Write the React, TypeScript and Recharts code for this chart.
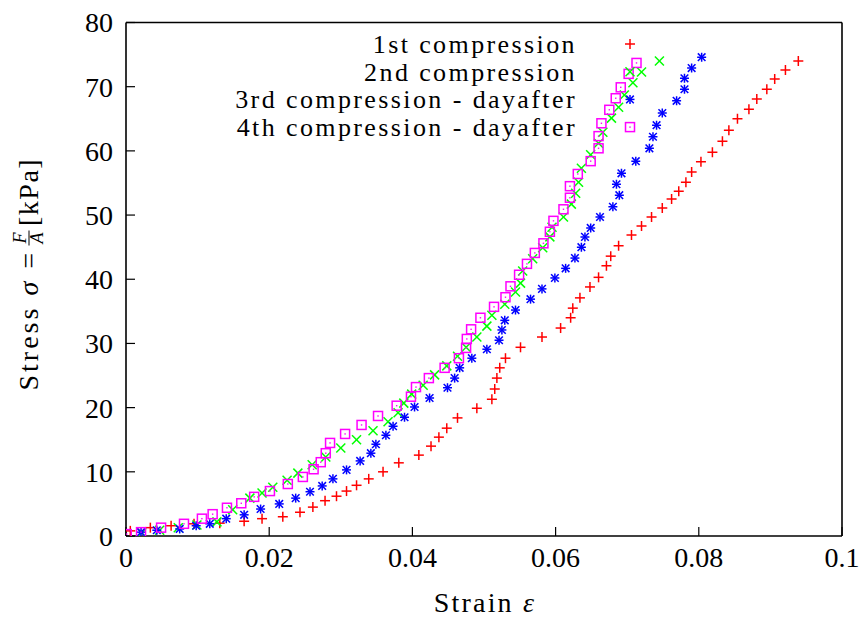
import { ScatterChart, Scatter, XAxis, YAxis } from 'recharts'

// [strain, stress kPa]
const firstCompression: [number, number][] = [
  [0.0006, 0.8], [0.0034, 1.3], [0.0063, 1.6], [0.0095, 1.9], [0.0131, 2.0], [0.0165, 2.3],
  [0.019, 2.7], [0.0219, 3.0], [0.0243, 3.7], [0.0261, 4.5], [0.0278, 5.5], [0.0294, 6.2],
  [0.0308, 7.0], [0.0322, 7.9], [0.0339, 8.9], [0.0359, 10.0], [0.0381, 11.4], [0.0409, 12.6],
  [0.0426, 14.0], [0.0437, 15.4], [0.0448, 16.8], [0.0463, 18.4], [0.049, 19.9], [0.0511, 21.3],
  [0.0515, 22.9], [0.0518, 24.6], [0.0522, 26.2], [0.053, 27.7], [0.0551, 29.4], [0.0581, 31.0],
  [0.0607, 32.4], [0.0621, 34.0], [0.0624, 35.5], [0.0634, 37.1], [0.0648, 38.8], [0.066, 40.3],
  [0.0671, 42.1], [0.0677, 43.6], [0.0688, 45.2], [0.0706, 46.9], [0.072, 48.3], [0.0734, 49.7],
  [0.0749, 51.1], [0.0762, 52.5], [0.0772, 53.7], [0.0782, 55.1], [0.079, 56.7], [0.0803, 58.3],
  [0.0819, 59.8], [0.0833, 61.5], [0.0842, 63.2], [0.0854, 65.0], [0.087, 66.5], [0.0881, 68.1],
  [0.0895, 69.6], [0.0906, 71.2], [0.0921, 72.6], [0.0939, 74.0],
]

const secondCompression: [number, number][] = [
  [0.0022, 0.5], [0.0047, 0.9], [0.0073, 1.3], [0.0099, 1.7], [0.0127, 2.2], [0.0149, 4.1],
  [0.0173, 5.9], [0.019, 6.7], [0.0205, 7.6], [0.0225, 8.7], [0.024, 9.8], [0.026, 11.1],
  [0.0279, 12.3], [0.03, 13.7], [0.0322, 15.0], [0.0345, 16.4], [0.0366, 17.8], [0.038, 19.2],
  [0.0388, 20.7], [0.0399, 22.1], [0.0415, 23.5], [0.0431, 25.1], [0.0448, 26.5], [0.0463, 28.0],
  [0.0475, 29.4], [0.049, 31.0], [0.0504, 32.7], [0.0511, 34.4], [0.0529, 36.1], [0.0544, 38.0],
  [0.0551, 39.4], [0.0554, 41.3], [0.0568, 43.2], [0.0582, 44.9], [0.0592, 46.6], [0.0595, 48.1],
  [0.0611, 49.7], [0.0622, 51.7], [0.0628, 53.4], [0.0632, 55.1], [0.0636, 57.3], [0.0649, 59.4],
  [0.066, 61.2], [0.0666, 62.9], [0.0678, 65.1], [0.0688, 66.8], [0.0696, 68.7], [0.0708, 70.6],
  [0.072, 72.3], [0.0745, 74.0],
]

const thirdCompression: [number, number][] = [
  [0.0021, 0.6], [0.0043, 0.9], [0.0075, 1.1], [0.0098, 1.6], [0.0117, 1.9], [0.014, 2.7],
  [0.0165, 3.3], [0.0188, 4.2], [0.0214, 5.0], [0.0237, 5.9], [0.0257, 6.9], [0.0274, 7.8],
  [0.0289, 8.9], [0.0308, 10.3], [0.0327, 11.7], [0.0342, 12.9], [0.0349, 14.3], [0.0363, 15.7],
  [0.0373, 17.1], [0.0389, 18.5], [0.0403, 20.1], [0.0424, 21.5], [0.0449, 23.1], [0.0459, 24.6],
  [0.0466, 26.2], [0.0483, 27.7], [0.0504, 29.1], [0.0521, 30.5], [0.0525, 32.1], [0.0529, 33.6],
  [0.0544, 35.2], [0.0565, 36.9], [0.0581, 38.5], [0.0599, 40.2], [0.0614, 41.7], [0.0627, 43.3],
  [0.0636, 45.0], [0.0641, 46.6], [0.0649, 48.0], [0.0662, 49.7], [0.068, 51.3], [0.0689, 53.1],
  [0.0685, 54.8], [0.0692, 56.5], [0.0712, 58.4], [0.0731, 60.4], [0.0736, 62.2], [0.0741, 64.0],
  [0.0749, 65.9], [0.0769, 67.8], [0.078, 69.6], [0.078, 71.3], [0.079, 72.9], [0.0804, 74.6],
]

const fourthCompression: [number, number][] = [
  [0.0001, 0.3], [0.0021, 0.6], [0.0049, 1.3], [0.0081, 1.9], [0.0106, 2.7], [0.0121, 3.4],
  [0.0141, 4.4], [0.0161, 5.1], [0.0179, 6.1], [0.0201, 7.0], [0.0226, 8.1], [0.0247, 9.2],
  [0.0262, 10.4], [0.0272, 11.5], [0.0279, 12.9], [0.0285, 14.5], [0.0306, 15.9], [0.0329, 17.3],
  [0.0352, 18.7], [0.0378, 20.3], [0.0398, 21.7], [0.0405, 23.2], [0.0423, 24.6], [0.0445, 26.2],
  [0.0465, 27.7], [0.0475, 29.3], [0.0476, 30.7], [0.0482, 32.2], [0.0495, 34.0], [0.0514, 35.7],
  [0.053, 37.2], [0.0537, 38.9], [0.0549, 40.7], [0.056, 42.4], [0.0571, 44.1], [0.0583, 45.6],
  [0.0592, 47.4], [0.0597, 49.1], [0.0611, 50.9], [0.062, 52.7], [0.062, 54.5], [0.0631, 56.4],
  [0.0649, 58.4], [0.066, 60.4], [0.066, 62.3], [0.0664, 64.3], [0.0675, 66.4], [0.0684, 68.2],
  [0.0691, 69.9], [0.0702, 72.0], [0.0713, 73.7],
]

const seriesNames = [
  '1st compression',
  '2nd compression',
  '3rd compression - dayafter',
  '4th compression - dayafter',
]

const xTicks = [0, 0.02, 0.04, 0.06, 0.08, 0.1]
const yTicks = [0, 10, 20, 30, 40, 50, 60, 70, 80]

const toPoints = (pairs: [number, number][]) => pairs.map(([x, y]) => ({ x, y }))

const FONT = 'Liberation Serif, DejaVu Serif, Times New Roman, Times, serif'
const SW = 1.5

// gnuplot-like point types
type MarkProps = { cx?: number; cy?: number }

const PlusMark = ({ cx = 0, cy = 0 }: MarkProps) => (
  <g stroke="#ff0000" strokeWidth={SW}>
    <line x1={cx - 5} y1={cy} x2={cx + 5} y2={cy} />
    <line x1={cx} y1={cy - 5} x2={cx} y2={cy + 5} />
  </g>
)

const CrossMark = ({ cx = 0, cy = 0 }: MarkProps) => (
  <g stroke="#00ff00" strokeWidth={SW}>
    <line x1={cx - 4.5} y1={cy - 4.5} x2={cx + 4.5} y2={cy + 4.5} />
    <line x1={cx - 4.5} y1={cy + 4.5} x2={cx + 4.5} y2={cy - 4.5} />
  </g>
)

const StarMark = ({ cx = 0, cy = 0 }: MarkProps) => (
  <g stroke="#0000ff" strokeWidth={SW}>
    <line x1={cx - 4.5} y1={cy} x2={cx + 4.5} y2={cy} />
    <line x1={cx} y1={cy - 4.5} x2={cx} y2={cy + 4.5} />
    <line x1={cx - 3.8} y1={cy - 3.8} x2={cx + 3.8} y2={cy + 3.8} />
    <line x1={cx - 3.8} y1={cy + 3.8} x2={cx + 3.8} y2={cy - 3.8} />
  </g>
)

const SquareMark = ({ cx = 0, cy = 0 }: MarkProps) => (
  <g>
    <rect x={cx - 4.5} y={cy - 4.5} width={9} height={9} fill="none" stroke="#ff00ff" strokeWidth={SW} />
    <rect x={cx - 0.7} y={cy - 0.7} width={1.4} height={1.4} fill="#ff00ff" />
  </g>
)

const marks = [PlusMark, CrossMark, StarMark, SquareMark]

const fmtX = (v: number) => (v === 0 ? '0' : String(+v.toFixed(2)))

const tickFont = { fontSize: 28, fontFamily: FONT, fill: '#000' }
const axisLine = { stroke: '#000', strokeWidth: 1.6 }
const tickLine = { stroke: '#000', strokeWidth: 1.2 }

export default function App() {
  const series = [firstCompression, secondCompression, thirdCompression, fourthCompression]
  return (
    <div style={{ position: 'absolute', left: 0, top: 0, width: 864, height: 619, background: '#fff', fontFamily: FONT }}>
      <ScatterChart width={864} height={619} margin={{ top: 21.5, right: 21, bottom: 33, left: 66 }}>
        <XAxis
          dataKey="x"
          type="number"
          domain={[0, 0.1]}
          allowDataOverflow
          ticks={xTicks}
          interval={0}
          tickFormatter={fmtX}
          height={50}
          tickSize={-9}
          tickMargin={20}
          tick={tickFont}
          axisLine={axisLine}
          tickLine={tickLine}
        />
        <XAxis
          xAxisId="top"
          orientation="top"
          type="number"
          domain={[0, 0.1]}
          allowDataOverflow
          ticks={xTicks}
          interval={0}
          height={1}
          tickSize={-9}
          tick={false}
          axisLine={axisLine}
          tickLine={tickLine}
        />
        <YAxis
          dataKey="y"
          type="number"
          domain={[0, 80]}
          allowDataOverflow
          ticks={yTicks}
          interval={0}
          width={60}
          tickSize={-9}
          tickMargin={22}
          tick={tickFont}
          axisLine={axisLine}
          tickLine={tickLine}
        />
        <YAxis
          yAxisId="right"
          orientation="right"
          type="number"
          domain={[0, 80]}
          allowDataOverflow
          ticks={yTicks}
          interval={0}
          width={1}
          tickSize={-9}
          tick={false}
          axisLine={axisLine}
          tickLine={tickLine}
        />
        {series.map((s, i) => {
          const Mark = marks[i]
          return (
            <Scatter
              key={seriesNames[i]}
              name={seriesNames[i]}
              data={toPoints(s)}
              isAnimationActive={false}
              shape={(p: any) => <Mark cx={p.cx} cy={p.cy} />}
            />
          )
        })}
      </ScatterChart>

      {/* labels and key, drawn over the chart */}
      <svg
        width={864}
        height={619}
        style={{ position: 'absolute', left: 0, top: 0, pointerEvents: 'none', fontFamily: FONT }}
      >
        {seriesNames.map((name, i) => {
          const Mark = marks[i]
          const cy = 44 + i * 27.7
          return (
            <g key={name}>
              <text x={577} y={cy + 9} textAnchor="end" fontSize={26} letterSpacing={2.4} fill="#000" style={{ fontFamily: FONT }}>
                {name}
              </text>
              <Mark cx={630} cy={cy} />
            </g>
          )
        })}

        <text x={485} y={612} textAnchor="middle" fontSize={28} letterSpacing={2.2} fill="#000" style={{ fontFamily: FONT }}>
          Strain <tspan fontStyle="italic">ε</tspan>
        </text>

        <g transform="translate(38, 238) rotate(-90)" fill="#000" style={{ fontFamily: FONT }}>
          <text x={-12} y={0} textAnchor="end" fontSize={28} letterSpacing={3}>
            Stress <tspan fontStyle="italic">σ</tspan> =
          </text>
          <text x={0} y={-12} textAnchor="middle" fontSize={18} fontStyle="italic">F</text>
          <line x1={-7.5} y1={-9} x2={7.5} y2={-9} stroke="#000" strokeWidth={1} />
          <text x={0} y={5} textAnchor="middle" fontSize={18} fontStyle="italic">A</text>
          <text x={12} y={0} textAnchor="start" fontSize={28} letterSpacing={1.5}>
            [kPa]
          </text>
        </g>
      </svg>
    </div>
  )
}
